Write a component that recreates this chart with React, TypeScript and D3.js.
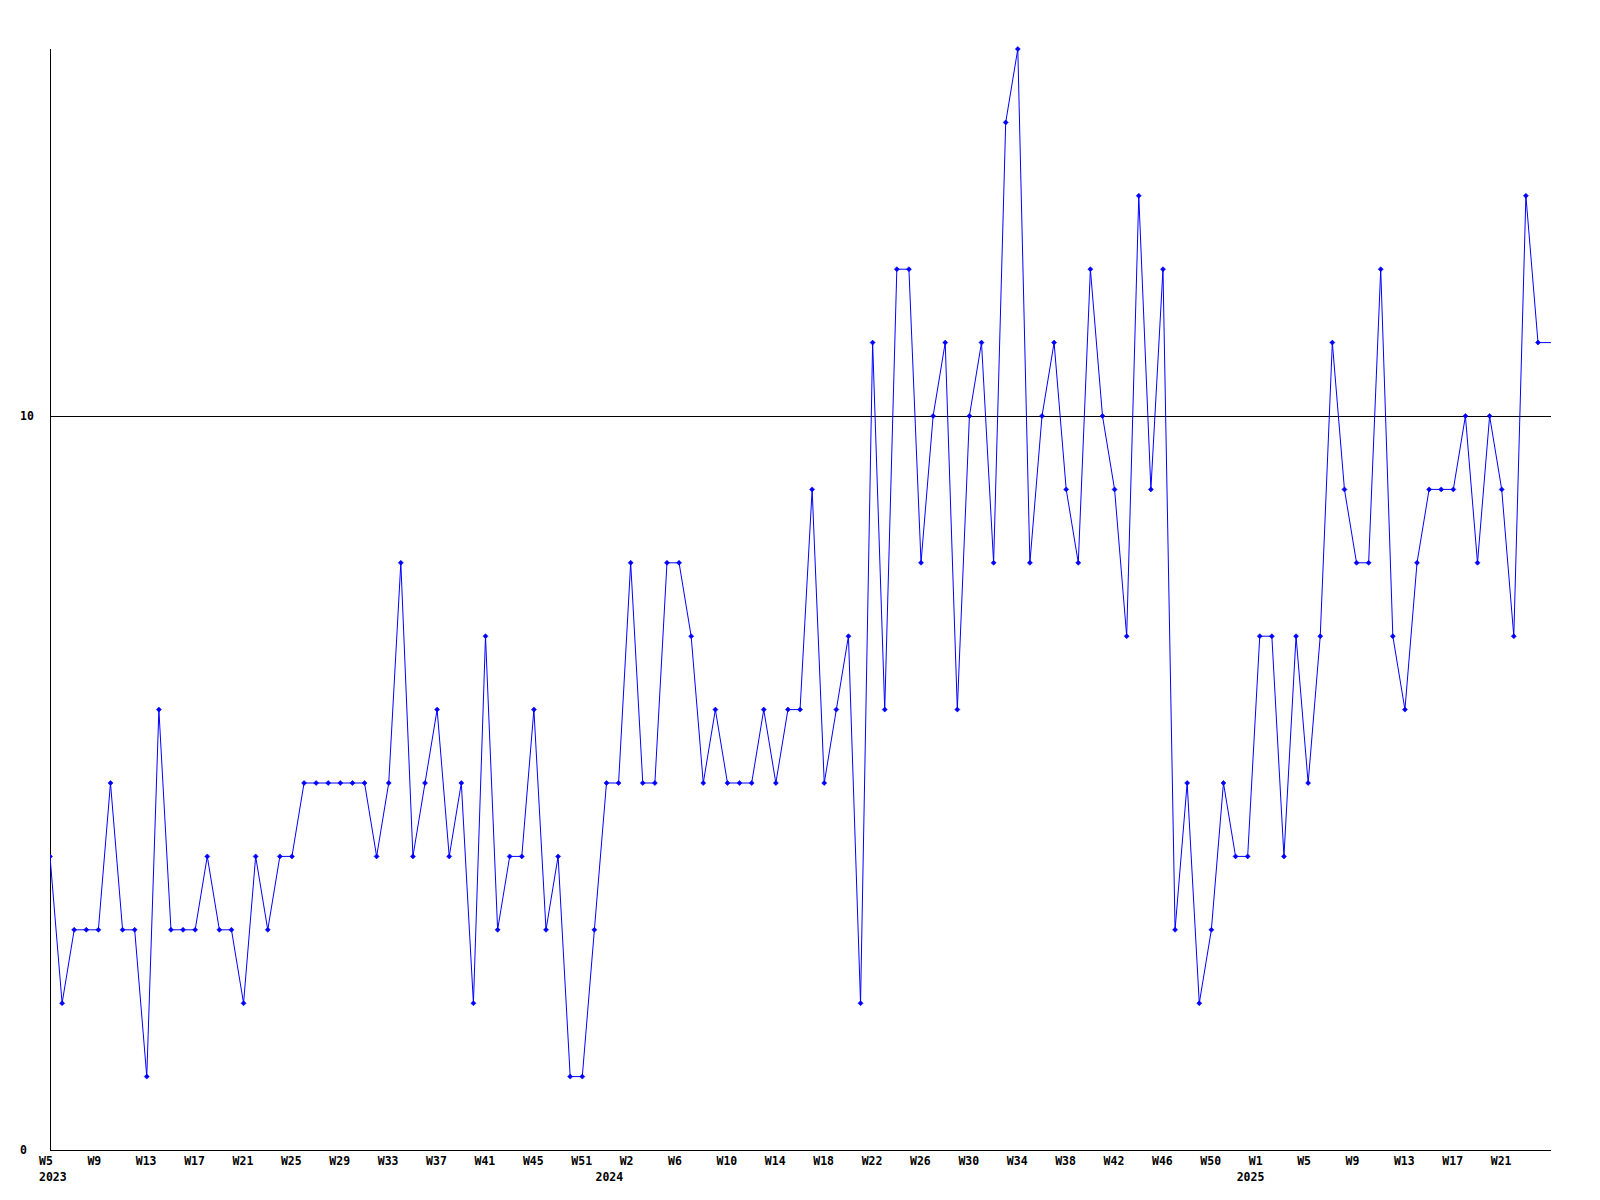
import React from "react";
import * as d3 from "d3";

// weekly values, 2023 W5 onward
const values: number[] = [
  4, 2, 3, 3, 3, 5, 3, 3, 1, 6,
  3, 3, 3, 4, 3, 3, 2, 4, 3, 4,
  4, 5, 5, 5, 5, 5, 5, 4, 5, 8,
  4, 5, 6, 4, 5, 2, 7, 3, 4, 4,
  6, 3, 4, 1, 1, 3, 5, 5, 8, 5,
  5, 8, 8, 7, 5, 6, 5, 5, 5, 6,
  5, 6, 6, 9, 5, 6, 7, 2, 11, 6,
  12, 12, 8, 10, 11, 6, 10, 11, 8, 14,
  15, 8, 10, 11, 9, 8, 12, 10, 9, 7,
  13, 9, 12, 3, 5, 2, 3, 5, 4, 4,
  7, 7, 4, 7, 5, 7, 11, 9, 8, 8,
  12, 7, 6, 8, 9, 9, 9, 10, 8, 10,
  9, 7, 13, 11,
];

const weekLabels: string[] = [
  "W5", "W9", "W13", "W17", "W21", "W25", "W29", "W33", "W37", "W41", "W45",
  "W51", "W2", "W6", "W10", "W14", "W18", "W22", "W26", "W30", "W34", "W38",
  "W42", "W46", "W50", "W1", "W5", "W9", "W13", "W17", "W21",
];
const weekLabelStep = 4;

const yearLabels: string[] = ["2023", "2024", "2025"];
const yearLabelIndex: number[] = [0, 46, 99];

const yTicks: number[] = [0, 10];
const gridValues: number[] = [10];
const yMax = 15;

const W = 1600;
const H = 1200;
const plotLeft = 50;
const plotRight = 1551;
const plotTop = 49;
const plotBottom = 1150;
const lastPointX = 1538;

const FONT = "'DejaVu Sans Mono', 'Liberation Mono', monospace";

export default function App() {
  const x = d3.scaleLinear().domain([0, values.length - 1]).range([plotLeft, lastPointX]);
  const y = d3.scaleLinear().domain([0, yMax]).range([plotBottom, plotTop]);

  const pts: [number, number][] = values.map((v, i) => [x(i), y(v)]);
  const extended: [number, number][] = [...pts, [plotRight, y(values[values.length - 1])]];
  const line = d3.line<[number, number]>().x((d) => d[0]).y((d) => d[1]);

  const r = 2.5;
  return (
    <svg
      width={W}
      height={H}
      viewBox={`0 0 ${W} ${H}`}
      style={{ position: "absolute", left: 0, top: 0, display: "block", background: "#fff" }}
    >
      <rect x={0} y={0} width={W} height={H} fill="#fff" />
      <defs>
        <clipPath id="plotclip">
          <rect x={plotLeft} y={plotTop - 5} width={plotRight - plotLeft} height={plotBottom - plotTop + 10} />
        </clipPath>
      </defs>
      {gridValues.map((g) => (
        <line
          key={"g" + g}
          x1={plotLeft}
          x2={plotRight}
          y1={Math.round(y(g)) + 0.5}
          y2={Math.round(y(g)) + 0.5}
          stroke="#000"
          strokeWidth={1}
          shapeRendering="crispEdges"
        />
      ))}
      <line
        x1={plotLeft + 0.5}
        x2={plotLeft + 0.5}
        y1={plotTop}
        y2={plotBottom + 1}
        stroke="#000"
        strokeWidth={1}
        shapeRendering="crispEdges"
      />
      <line
        x1={plotLeft}
        x2={plotRight}
        y1={plotBottom + 0.5}
        y2={plotBottom + 0.5}
        stroke="#000"
        strokeWidth={1}
        shapeRendering="crispEdges"
      />
      <g clipPath="url(#plotclip)">
        <path d={line(extended) || ""} fill="none" stroke="#0000ff" strokeWidth={1} />
        {pts.map(([px, py], i) => (
          <path
            key={i}
            d={`M${px - r},${py}L${px},${py - r}L${px + r},${py}L${px},${py + r}Z`}
            fill="#0000ff"
            stroke="#0000ff"
            strokeWidth={0.6}
          />
        ))}
      </g>
      {yTicks.map((t) => (
        <text
          key={"y" + t}
          x={20}
          y={y(t) + 4}
          fontFamily={FONT}
          fontWeight="bold"
          fontSize={11.5}
          fill="#000"
        >
          {t}
        </text>
      ))}
      {weekLabels.map((lab, k) => (
        <text
          key={"w" + k}
          x={x(k * weekLabelStep) - 11}
          y={plotBottom + 15}
          fontFamily={FONT}
          fontWeight="bold"
          fontSize={11.5}
          fill="#000"
        >
          {lab}
        </text>
      ))}
      {yearLabels.map((lab, k) => (
        <text
          key={"yr" + k}
          x={x(yearLabelIndex[k]) - 11}
          y={plotBottom + 31}
          fontFamily={FONT}
          fontWeight="bold"
          fontSize={11.5}
          fill="#000"
        >
          {lab}
        </text>
      ))}
    </svg>
  );
}
